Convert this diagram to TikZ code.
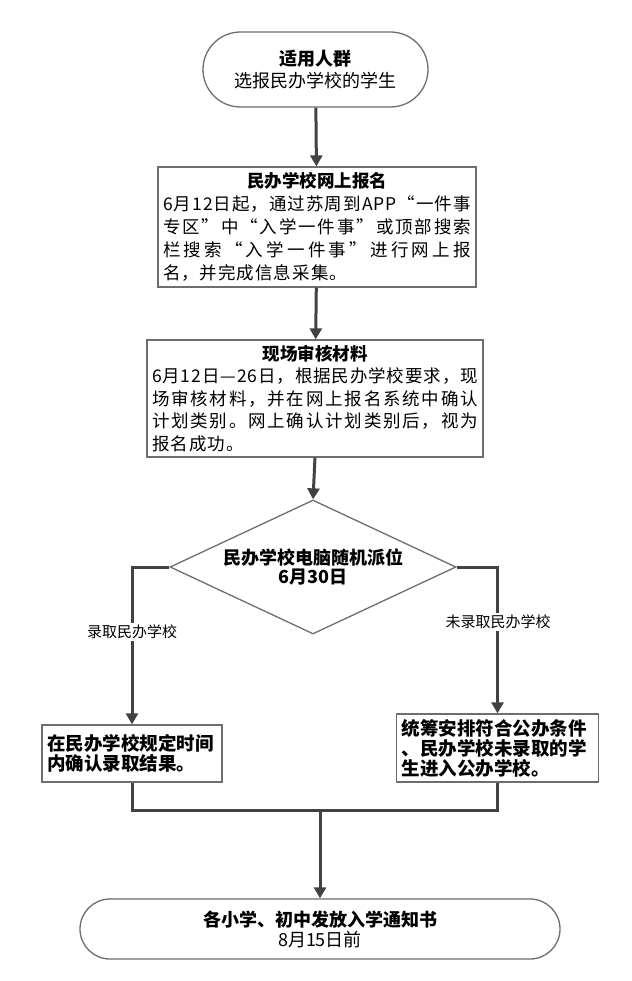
\documentclass[tikz,border=0pt]{standalone}
\usepackage{fontspec}
\setmainfont{Noto Sans CJK SC}
\usetikzlibrary{shapes.geometric,arrows.meta}
\definecolor{conn}{HTML}{424242}
\definecolor{edge}{HTML}{6E6E6E}
\makeatletter
\def\spr@first#1{#1\spr@rest}
\def\spr@rest#1{\ifx#1\relax\else\hfill#1\expandafter\spr@rest\fi}
\newcommand\spreadline[1]{\noindent\hbox to\linewidth{\spr@first#1\relax}\par}
\newcommand\spreadto[2]{\noindent\hbox to#1{\spr@first#2\relax}\par}
\makeatother
\tikzset{
  box/.style={draw=edge,line width=1.3pt,fill=white,inner sep=5pt},
  term/.style={box,minimum height=#1,rounded corners=0.5*#1},
  conline/.style={draw=conn,line width=3pt},
  arr/.style={conline,-{Triangle[length=11pt,width=12pt]}},
  lab/.style={fill=white,inner sep=2pt,font=\fontsize{15}{17}\selectfont},
}
\begin{document}
\begin{tikzpicture}[x=1pt,y=-1pt]
\useasboundingbox[fill=white] (0,0) rectangle (631,981);
% nodes
\node[term=75pt,minimum width=225pt,align=center,font=\fontsize{18}{22}\selectfont] (top) at (315.5,69.5)
  {{\bfseries 适用人群}\\选报民办学校的学生};
\node[box,minimum width=318pt,minimum height=120pt,text width=308pt,font=\fontsize{17.5}{23}\selectfont] (reg) at (317,227)
  {{\centering{\bfseries 民办学校网上报名}\par}%
   \spreadline{6月12日起，通过苏周到APP“一件事}%
   \spreadline{专区”中“入学一件事”或顶部搜索}%
   \spreadline{栏搜索“入学一件事”进行网上报}%
   \spreadto{184pt}{名，并完成信息采集。}};
\node[box,minimum width=336pt,minimum height=117pt,text width=326pt,font=\fontsize{17.5}{22.5}\selectfont] (chk) at (315,398.5)
  {{\centering{\bfseries 现场审核材料}\par}%
   \spreadline{6月12日—26日，根据民办学校要求，现}%
   \spreadline{场审核材料，并在网上报名系统中确认}%
   \spreadline{计划类别。网上确认计划类别后，视为}%
   \spreadto{92pt}{报名成功。}};
\node[diamond,draw=edge,line width=1.3pt,fill=white,inner sep=0pt,aspect=2.13,
  minimum width=286pt,minimum height=134pt,align=center,font=\fontsize{18}{19}\selectfont\bfseries] (dia) at (313,567)
  {民办学校电脑随机派位\\6月30日};
\node[box,minimum width=180pt,minimum height=57pt,text width=170pt,align=left,font=\fontsize{18.5}{20}\selectfont\bfseries] (lft) at (132,753.5)
  {在民办学校规定时间\\内确认录取结果。};
\node[box,minimum width=199pt,minimum height=68pt,text width=192pt,align=left,font=\fontsize{18.5}{20}\selectfont\bfseries] (rgt) at (497.5,748)
  {统筹安排符合公办条件\\、民办学校未录取的学\\生进入公办学校。};
\node[term=60pt,minimum width=480pt,align=center,font=\fontsize{18}{20}\selectfont] (bot) at (320,929)
  {{\bfseries 各小学、初中发放入学通知书}\\8月15日前};
\coordinate (m) at (320,810);
% connectors
\draw[arr] (top) -- (reg);
\draw[arr] (reg) -- (chk);
\draw[arr] (chk.south) -- (dia.north);
\draw[arr] (dia.west) -| (lft.north);
\draw[arr] (dia.east) -| (rgt.north);
\draw[conline] (lft.south) |- (m);
\draw[conline] (rgt.south) |- (m);
\draw[arr] (m) -- (bot.north);
% labels
\node[lab] (l1) at (132,632) {录取民办学校};
\node[lab] (l2) at (498,622) {未录取民办学校};
\end{tikzpicture}
\end{document}
